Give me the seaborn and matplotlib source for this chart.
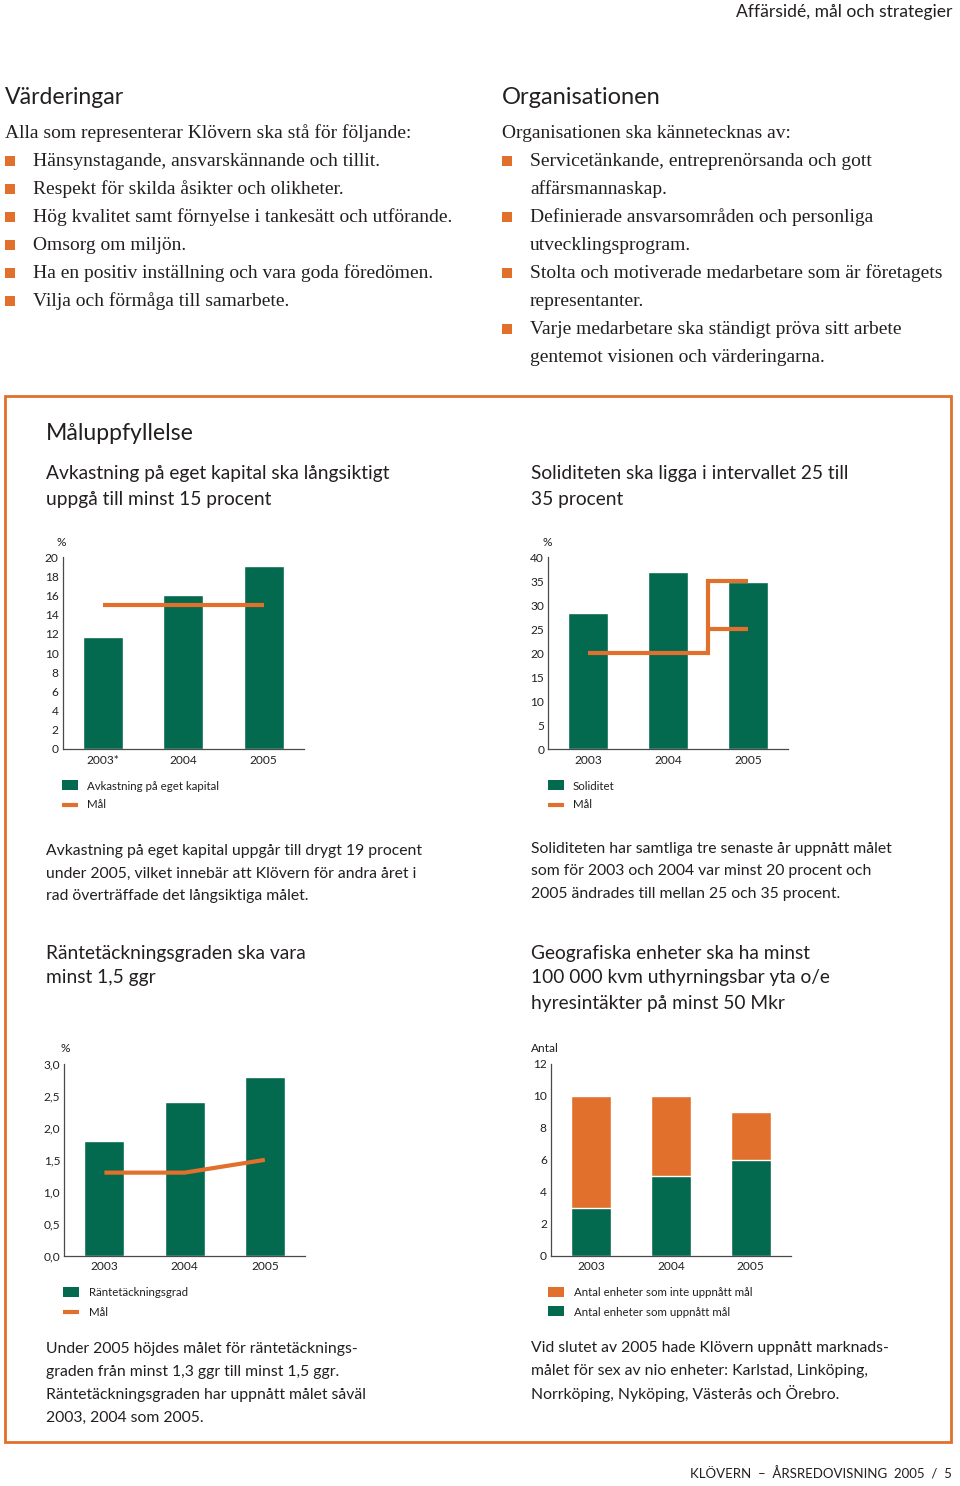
import numpy as np
import pandas as pd
import matplotlib
matplotlib.use("Agg")
import matplotlib.pyplot as plt
from matplotlib.patches import Rectangle
from matplotlib.lines import Line2D
import seaborn as sns

# ---------------------------------------------------------------
# data
# ---------------------------------------------------------------
years = ["2003", "2004", "2005"]
years_roe = ["2003*", "2004", "2005"]

roe_values = [11.7, 16.1, 19.1]          # avkastning pa eget kapital, %
roe_goal = [15, 15, 15]

equity_values = [28.4, 36.9, 34.8]       # soliditet, %
equity_goal_low = [20, 20, 25]
equity_goal_high = [20, 20, 35]

icr_values = [1.8, 2.4, 2.8]             # rantetackningsgrad
icr_goal = [1.3, 1.3, 1.5]

units_met = [3, 5, 6]
units_not_met = [7, 5, 3]

GREEN = "#03694F"
ORANGE = "#E1702C"
TEXT = "#231F20"
AXIS = "#4A4A4A"

sns.set_style("white")
plt.rcParams["font.family"] = ["Lato", "DejaVu Sans"]

W, H = 960, 1486
fig = plt.figure(figsize=(W / 100, H / 100), dpi=100)


def fx(x):
    return x / W


def fy(y):
    return 1 - y / H


def ftext(x, y, s, size=10.5, ha="left", family=None, **kw):
    kw.setdefault("color", TEXT)
    if family is not None:
        kw["family"] = family
    fig.text(fx(x), fy(y), s, fontsize=size, ha=ha, va="center", **kw)


def square(x, y, color, w=16, h=10):
    fig.add_artist(Rectangle((fx(x), fy(y + h / 2)), w / W, h / H,
                             transform=fig.transFigure, color=color, lw=0))


def dash(x, y, w=16):
    fig.add_artist(Line2D([fx(x), fx(x + w)], [fy(y), fy(y)],
                          transform=fig.transFigure, color=ORANGE, lw=3,
                          solid_capstyle="butt"))


# ---------------------------------------------------------------
# page text, top part
# ---------------------------------------------------------------
ftext(952, 12, "Affärsidé, mål och strategier", size=12.6, ha="right")

SERIF = ["Liberation Serif", "DejaVu Serif"]
BODY = 14
ftext(5, 97, "Värderingar", size=16.6)
ftext(5, 133, "Alla som representerar Klövern ska stå för följande:", size=BODY, family=SERIF)
values_items = [
    "Hänsynstagande, ansvarskännande och tillit.",
    "Respekt för skilda åsikter och olikheter.",
    "Hög kvalitet samt förnyelse i tankesätt och utförande.",
    "Omsorg om miljön.",
    "Ha en positiv inställning och vara goda föredömen.",
    "Vilja och förmåga till samarbete.",
]
for i, item in enumerate(values_items):
    y = 161 + 28 * i
    square(5, y, ORANGE, w=10, h=10)
    ftext(33, y, item, size=BODY, family=SERIF)

ftext(502, 97, "Organisationen", size=17)
ftext(502, 133, "Organisationen ska kännetecknas av:", size=BODY, family=SERIF)
org_lines = [
    ("Servicetänkande, entreprenörsanda och gott", True),
    ("affärsmannaskap.", False),
    ("Definierade ansvarsområden och personliga", True),
    ("utvecklingsprogram.", False),
    ("Stolta och motiverade medarbetare som är företagets", True),
    ("representanter.", False),
    ("Varje medarbetare ska ständigt pröva sitt arbete", True),
    ("gentemot visionen och värderingarna.", False),
]
for i, (line, bullet) in enumerate(org_lines):
    y = 161 + 28 * i
    if bullet:
        square(502, y, ORANGE, w=10, h=10)
    ftext(530, y, line, size=BODY, family=SERIF)

# orange frame
fig.add_artist(Rectangle((fx(5), fy(1442)), 946 / W, (1442 - 396) / H,
                         transform=fig.transFigure, fill=False,
                         edgecolor=ORANGE, lw=2))

SUB = 13.8
ftext(46, 434, "Måluppfyllelse", size=16.6)
ftext(46, 474, "Avkastning på eget kapital ska långsiktigt", size=SUB)
ftext(46, 499, "uppgå till minst 15 procent", size=SUB)
ftext(531, 474, "Soliditeten ska ligga i intervallet 25 till", size=SUB)
ftext(531, 499, "35 procent", size=SUB)

ftext(46, 953, "Räntetäckningsgraden ska vara", size=SUB)
ftext(46, 978, "minst 1,5 ggr", size=SUB)
ftext(531, 953, "Geografiska enheter ska ha minst", size=SUB)
ftext(531, 978, "100 000 kvm uthyrningsbar yta o/e", size=SUB)
ftext(531, 1003, "hyresintäkter på minst 50 Mkr", size=SUB)

paragraphs = [
    (46, 851, 22.5, ["Avkastning på eget kapital uppgår till drygt 19 procent",
                     "under 2005, vilket innebär att Klövern för andra året i",
                     "rad överträffade det långsiktiga målet."]),
    (531, 849, 22.5, ["Soliditeten har samtliga tre senaste år uppnått målet",
                      "som för 2003 och 2004 var minst 20 procent och",
                      "2005 ändrades till mellan 25 och 35 procent."]),
    (46, 1349, 23, ["Under 2005 höjdes målet för räntetäcknings-",
                    "graden från minst 1,3 ggr till minst 1,5 ggr.",
                    "Räntetäckningsgraden har uppnått målet såväl",
                    "2003, 2004 som 2005."]),
    (531, 1348, 23, ["Vid slutet av 2005 hade Klövern uppnått marknads-",
                     "målet för sex av nio enheter: Karlstad, Linköping,",
                     "Norrköping, Nyköping, Västerås och Örebro."]),
]
for x0, y0, step, lines in paragraphs:
    for i, line in enumerate(lines):
        ftext(x0, y0 + step * i, line, size=11.3)

ftext(952, 1474, "KLÖVERN  –  ÅRSREDOVISNING  2005  /  5", size=9.5, ha="right")


# ---------------------------------------------------------------
# charts
# ---------------------------------------------------------------
TICK = 8.6
LEG = 8.3


def make_ax(left, right, top, bottom):
    return fig.add_axes([fx(left), fy(bottom), (right - left) / W, (bottom - top) / H])


def style_ax(ax, labels, ymax, yticks, yticklabels):
    ax.set_xlim(-0.5, 2.5)
    ax.set_ylim(0, ymax)
    ax.set_xlabel("")
    ax.set_ylabel("")
    for s in ["top", "right"]:
        ax.spines[s].set_visible(False)
    for s in ["left", "bottom"]:
        ax.spines[s].set_color(AXIS)
        ax.spines[s].set_linewidth(0.9)
    ax.set_xticks([0, 1, 2])
    ax.set_xticklabels(labels)
    ax.set_xticks([0.5, 1.5, 2.5], minor=True)
    ax.tick_params(axis="x", which="major", length=0, pad=4, labelsize=TICK, colors=TEXT)
    ax.tick_params(axis="x", which="minor", direction="in", length=4, width=0.9, color=AXIS)
    ax.set_yticks(yticks)
    ax.set_yticklabels(yticklabels)
    ax.tick_params(axis="y", direction="in", length=6, width=0.9, pad=3,
                   labelsize=TICK, colors=TEXT)
    ax.tick_params(axis="y", color=AXIS)
    ax.patch.set_alpha(0)


# 1. avkastning pa eget kapital
ax1 = make_ax(62.7, 304, 557.3, 749)
df1 = pd.DataFrame({"year": years_roe, "value": roe_values})
sns.barplot(data=df1, x="year", y="value", color=GREEN, saturation=1, width=0.5, ax=ax1)
ax1.plot(range(len(roe_goal)), roe_goal, color=ORANGE, lw=3, solid_capstyle="butt", zorder=5)
style_ax(ax1, years_roe, 20, range(0, 21, 2), [str(v) for v in range(0, 21, 2)])
ftext(61, 542, "%", size=TICK, ha="center")
square(62, 785, GREEN)
ftext(87, 786, "Avkastning på eget kapital", size=LEG)
dash(62, 805)
ftext(87, 805, "Mål", size=LEG)

# 2. soliditet
ax2 = make_ax(548.3, 788, 557.3, 749.3)
df2 = pd.DataFrame({"year": years, "value": equity_values})
sns.barplot(data=df2, x="year", y="value", color=GREEN, saturation=1, width=0.5, ax=ax2)
mid = 1.5  # goal changed between 2004 and 2005
ax2.plot([0, 1, mid, mid, 2], [equity_goal_low[0], equity_goal_low[1], equity_goal_low[1],
                              equity_goal_high[2], equity_goal_high[2]],
         color=ORANGE, lw=3, solid_capstyle="butt", solid_joinstyle="miter", zorder=5)
ax2.plot([mid, 2], [equity_goal_low[2], equity_goal_low[2]],
         color=ORANGE, lw=3, solid_capstyle="butt", zorder=5)
style_ax(ax2, years, 40, range(0, 41, 5), [str(v) for v in range(0, 41, 5)])
ftext(547, 543, "%", size=TICK, ha="center")
square(548, 785, GREEN)
ftext(573, 786, "Soliditet", size=LEG)
dash(548, 805)
ftext(573, 805, "Mål", size=LEG)

# 3. rantetackningsgrad
ax3 = make_ax(64.3, 305, 1064, 1255.7)
df3 = pd.DataFrame({"year": years, "value": icr_values})
sns.barplot(data=df3, x="year", y="value", color=GREEN, saturation=1, width=0.5, ax=ax3)
ax3.plot(range(len(icr_goal)), icr_goal, color=ORANGE, lw=3, solid_capstyle="butt", zorder=5)
icr_ticks = np.arange(0, 3.01, 0.5)
style_ax(ax3, years, 3.0, icr_ticks, [f"{v:.1f}".replace(".", ",") for v in icr_ticks])
ftext(65, 1048, "%", size=TICK, ha="center")
square(63, 1292, GREEN)
ftext(89, 1292, "Räntetäckningsgrad", size=LEG)
dash(63, 1312)
ftext(89, 1312, "Mål", size=LEG)

# 4. geografiska enheter
ax4 = make_ax(551, 790.7, 1064, 1255.7)
df4 = pd.DataFrame({"year": years,
                    "met": units_met,
                    "total": np.array(units_met) + np.array(units_not_met)})
sns.barplot(data=df4, x="year", y="total", color=ORANGE, saturation=1, width=0.5, ax=ax4)
sns.barplot(data=df4, x="year", y="met", color=GREEN, saturation=1, width=0.5, ax=ax4)
style_ax(ax4, years, 12, range(0, 13, 2), [str(v) for v in range(0, 13, 2)])
ftext(531, 1048, "Antal", size=TICK)
square(548, 1292, ORANGE)
ftext(574, 1292, "Antal enheter som inte uppnått mål", size=LEG)
square(548, 1311, GREEN)
ftext(574, 1312, "Antal enheter som uppnått mål", size=LEG)

fig.savefig("out.png", dpi=100)
